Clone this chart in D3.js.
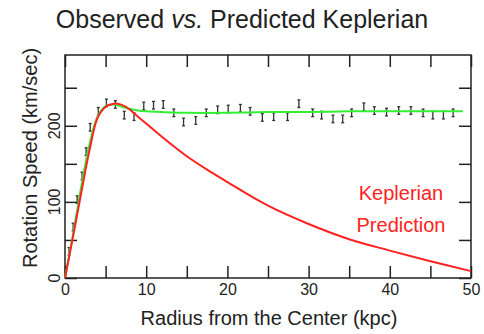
<!DOCTYPE html>
<html>
<head>
<meta charset="utf-8">
<script src="https://d3js.org/d3.v7.min.js"></script>
<style>
  body { margin: 0; background: #fff; }
  text { font-family: "Liberation Sans", Arial, sans-serif; }
</style>
</head>
<body>
<svg id="viz" width="484" height="334"></svg>
<script>
// observed rotation speeds (kpc, km/s)
var obsR = [0.5, 1.0, 1.5, 2.1, 2.6, 3.1, 4.1, 5.1, 6.2, 7.3, 8.5, 9.7, 10.9, 12.1, 13.4, 14.6, 16.1, 17.4, 18.8, 20.1,
            21.6, 22.8, 24.3, 25.7, 27.4, 28.8, 30.5, 31.6, 33.0, 34.2, 35.3, 36.8, 38.1, 39.6, 41.1, 42.6, 44.1, 45.3, 46.6, 47.8];
var obsV = [35, 67, 103, 134, 166, 198, 219, 230, 228, 214, 212, 226, 227, 228, 217, 205, 207, 217, 221, 222,
            223, 219, 211, 212, 212, 229, 217, 214, 209, 209, 217, 225, 220, 218, 220, 220, 217, 214, 214, 217];
var obsErr = 5;

// fitted (green) curve
var fitR = [0, 1, 2, 3, 4, 5, 6, 7, 8, 9, 10, 12, 15, 20, 25, 30, 35, 40, 45, 49];
var fitV = [0, 58, 120, 175, 212, 226, 228, 225, 222, 220, 219, 218, 217, 217, 218, 218, 219, 219, 219, 219];

// keplerian prediction (red)
var kepR = [0, 1, 2, 3, 4, 5, 6, 6.5, 7.5, 9, 12, 15, 18, 20, 25, 30, 35, 40, 45, 50];
var kepV = [0, 55, 112, 167, 210, 225, 229, 229, 225, 212, 185, 160, 139, 126, 95, 71, 51, 36, 22, 9];

var xTicks = [0, 5, 10, 15, 20, 25, 30, 35, 40, 45, 50];
var yTicks = [0, 50, 100, 150, 200, 250];
var yLabels = [0, 100, 200];

var svg = d3.select("#viz");
var pLeft = 65, pRight = 471, pTop = 55, pBottom = 278;

var x = d3.scaleLinear().domain([0, 50]).range([pLeft, pRight]);
var y = d3.scaleLinear().domain([0, 293]).range([pBottom, pTop]);

svg.append("text")
  .attr("x", 242).attr("y", 28)
  .attr("text-anchor", "middle")
  .attr("font-size", 25).attr("fill", "#222")
  .html('Observed <tspan font-style="italic">vs.</tspan> Predicted Keplerian');

// tick marks (inward on all four sides)
function styleAxis(g) {
  g.select(".domain").remove();
  g.selectAll("line").attr("stroke", "#222").attr("stroke-width", 1.5);
}
svg.append("g").attr("transform", "translate(0," + pBottom + ")")
  .call(d3.axisBottom(x).tickValues(xTicks).tickSize(-12).tickPadding(6)
        .tickFormat(function(d) { return d % 10 === 0 ? d : ""; }))
  .call(styleAxis)
  .selectAll("text").attr("font-size", 16).attr("fill", "#222")
  .attr("font-family", "Liberation Sans, Arial, sans-serif");
svg.append("g").attr("transform", "translate(0," + pTop + ")")
  .call(d3.axisTop(x).tickValues(xTicks).tickSize(-12).tickFormat(""))
  .call(styleAxis);
svg.append("g").attr("transform", "translate(" + pLeft + ",0)")
  .call(d3.axisLeft(y).tickValues(yTicks).tickSize(-12).tickFormat(""))
  .call(styleAxis);
svg.append("g").attr("transform", "translate(" + pRight + ",0)")
  .call(d3.axisRight(y).tickValues(yTicks).tickSize(-12).tickFormat(""))
  .call(styleAxis);

svg.selectAll(".ylab").data(yLabels).enter().append("text")
  .attr("class", "ylab")
  .attr("transform", function(d) { return "translate(60," + y(d) + ") rotate(-90)"; })
  .attr("text-anchor", "middle")
  .attr("font-size", 16).attr("fill", "#222")
  .text(function(d) { return d; });

svg.append("rect")
  .attr("x", pLeft).attr("y", pTop)
  .attr("width", pRight - pLeft).attr("height", pBottom - pTop)
  .attr("fill", "none").attr("stroke", "#222").attr("stroke-width", 1.5);

// axis titles
svg.append("text")
  .attr("x", 269).attr("y", 325)
  .attr("text-anchor", "middle").attr("font-size", 20).attr("fill", "#222")
  .text("Radius from the Center (kpc)");
svg.append("text")
  .attr("transform", "translate(37,158) rotate(-90)")
  .attr("text-anchor", "middle").attr("font-size", 20).attr("fill", "#222")
  .text("Rotation Speed (km/sec)");

var line = d3.line()
  .x(function(d) { return x(d[0]); })
  .y(function(d) { return y(d[1]); })
  .curve(d3.curveCatmullRom);

// observed points with error bars
var obs = obsR.map(function(r, i) { return [r, obsV[i]]; });
var pts = svg.append("g").selectAll("g").data(obs).enter().append("g")
  .attr("stroke", "#333").attr("stroke-width", 1.3).attr("fill", "none");
pts.append("line")
  .attr("x1", function(d) { return x(d[0]); }).attr("x2", function(d) { return x(d[0]); })
  .attr("y1", function(d) { return y(d[1] + obsErr); }).attr("y2", function(d) { return y(d[1] - obsErr); });
pts.append("line")
  .attr("x1", function(d) { return x(d[0]) - 1.5; }).attr("x2", function(d) { return x(d[0]) + 1.5; })
  .attr("y1", function(d) { return y(d[1] + obsErr); }).attr("y2", function(d) { return y(d[1] + obsErr); });
pts.append("line")
  .attr("x1", function(d) { return x(d[0]) - 1.5; }).attr("x2", function(d) { return x(d[0]) + 1.5; })
  .attr("y1", function(d) { return y(d[1] - obsErr); }).attr("y2", function(d) { return y(d[1] - obsErr); });

svg.append("path")
  .datum(fitR.map(function(r, i) { return [r, fitV[i]]; }))
  .attr("d", line).attr("fill", "none")
  .attr("stroke", "#33ee33").attr("stroke-width", 2);

svg.append("path")
  .datum(kepR.map(function(r, i) { return [r, kepV[i]]; }))
  .attr("d", line).attr("fill", "none")
  .attr("stroke", "#ff2222").attr("stroke-width", 2);

svg.append("text")
  .attr("x", 401).attr("y", 200)
  .attr("text-anchor", "middle").attr("font-size", 20).attr("fill", "#ff2222")
  .text("Keplerian");
svg.append("text")
  .attr("x", 401).attr("y", 232)
  .attr("text-anchor", "middle").attr("font-size", 20).attr("fill", "#ff2222")
  .text("Prediction");
</script>
</body>
</html>
